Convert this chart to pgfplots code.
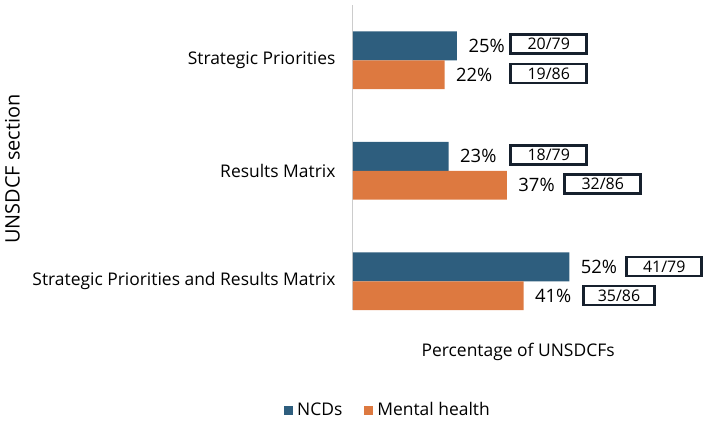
\documentclass[border=0pt]{standalone}
\usepackage{pgfplots}
\pgfplotsset{compat=1.18}
\usepackage{fontspec}
\setmainfont{Open Sans}
\definecolor{ncd}{RGB}{46,94,126}
\definecolor{mh}{RGB}{221,121,64}
\definecolor{boxline}{RGB}{22,32,45}
\begin{document}
\begin{tikzpicture}[x=1bp,y=1bp]
\begin{axis}[
  scale only axis,
  width=353.6bp, height=305bp,
  xbar, bar width=0.262,
  xmin=0, xmax=85,
  ymin=-0.5, ymax=2.26,
  y dir=reverse,
  hide x axis,
  axis y line*=left,
  y axis line style={draw=black!20, line width=1pt, -},
  ytick={0,1,2},
  yticklabels={Strategic Priorities, Results Matrix, Strategic Priorities and Results Matrix},
  major tick length=0pt,
  yticklabel style={font=\fontsize{17.5}{20}\selectfont, anchor=east, xshift=-14bp},
  clip=false,
  /pgf/number format/assume math mode=true,
  every axis plot/.append style={draw=none},
  nodes near coords={\pgfmathprintnumber{\pgfplotspointmeta}\%},
  point meta=x,
  nodes near coords style={font=\fontsize{18.5}{21}\selectfont, anchor=west, xshift=8bp},
  legend style={draw=none, at={(0.099,-0.328)}, anchor=center,
    legend columns=2, font=\fontsize{17.5}{20}\selectfont,
    /tikz/every odd column/.append style={column sep=2bp},
    /tikz/every even column/.append style={column sep=20bp}},
  legend image code/.code={\fill[#1] (0bp,-4.5bp) rectangle (9bp,4.5bp);},
]
% NCDs
\addplot[fill=ncd, bar shift=-0.131] coordinates {(25,0) (23,1) (52,2)};
% Mental health
\addplot[fill=mh, bar shift=0.131] coordinates {(22,0) (37,1) (41,2)};
\legend{NCDs, Mental health}

% counts behind each percentage
\tikzset{cnt/.style={draw=boxline, line width=2.6bp, anchor=west, inner sep=0pt,
  minimum height=19bp, font=\fontsize{16}{18}\selectfont}}
\node[cnt, minimum width=76bp] at (axis cs:37.6,-0.145) {20/79};
\node[cnt, minimum width=76bp] at (axis cs:37.6,0.12) {19/86};
\node[cnt, minimum width=76bp] at (axis cs:37.6,0.855) {18/79};
\node[cnt, minimum width=76bp] at (axis cs:50.6,1.12) {32/86};
\node[cnt, minimum width=75bp] at (axis cs:65.5,1.865) {41/79};
\node[cnt, minimum width=71bp] at (axis cs:55.1,2.13) {35/86};

\node[font=\fontsize{17.5}{20}\selectfont] at (rel axis cs:0.467,-0.138) {Percentage of UNSDCFs};
\node[font=\fontsize{20}{23}\selectfont, rotate=90] at (rel axis cs:-0.963,0.462) {UNSDCF section};
\path (rel axis cs:-0.9983,-0.3836) rectangle (rel axis cs:1.004,1.0164);
\end{axis}
\end{tikzpicture}
\end{document}
